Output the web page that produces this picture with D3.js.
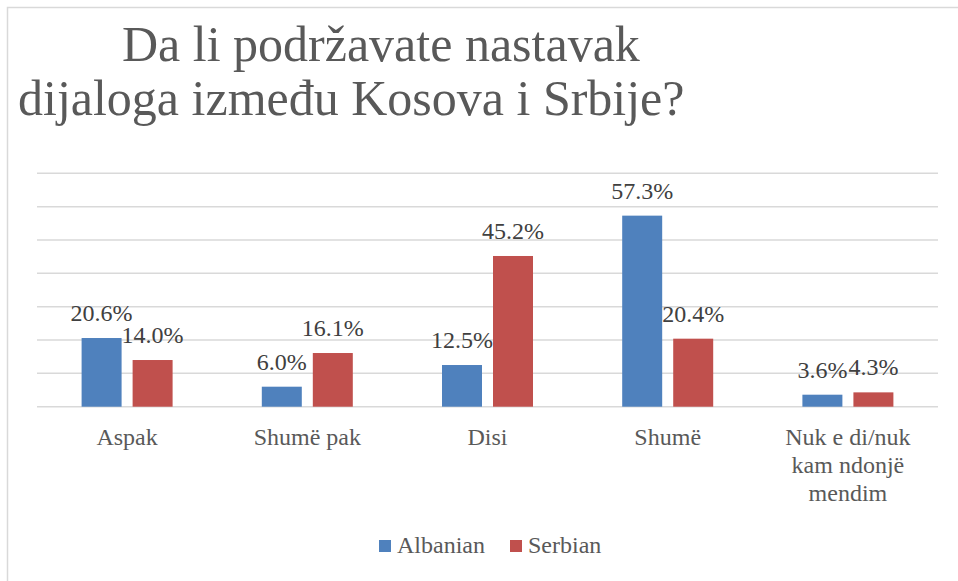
<!DOCTYPE html>
<html lang="en">
<head>
    <meta charset="UTF-8">
    <meta name="viewport" content="width=device-width, initial-scale=1.0">
    <title>Dijalog Kosovo Srbija</title>
    <script src="https://d3js.org/d3.v7.min.js"></script>
    <style>
        body{
            margin: 0;
            background: #ffffff;
        }
        svg{
            display: block;
        }
        svg text{
            font-family: "Liberation Serif", "DejaVu Serif", serif;
        }
    </style>
</head>
<body>
    <div id="chart"></div>
    <script>

        // data
        const categories = ["Aspak", "Shumë pak", "Disi", "Shumë", "Nuk e di/nuk kam ndonjë mendim"]
        const albanian = [20.6, 6.0, 12.5, 57.3, 3.6]
        const serbian = [14.0, 16.1, 45.2, 20.4, 4.3]
        const seriesNames = ["Albanian", "Serbian"]
        const yTicks = [0, 10, 20, 30, 40, 50, 60, 70]
        const titleLines = ["Da li podržavate nastavak", "dijaloga između Kosova i Srbije?"]

        // category labels are wrapped by hand like in the picture
        const categoryLines = [["Aspak"], ["Shumë pak"], ["Disi"], ["Shumë"], ["Nuk e di/nuk", "kam ndonjë", "mendim"]]

        const svgSize = {width:958, height:581}
        const plot = {left:37, right:938, top:173.3, bottom:406.7}
        const colors = {Albanian:"#4F81BD", Serbian:"#C0504D"}

        const svg = d3.select("#chart")
                        .append("svg")
                        .attr("width", svgSize.width)
                        .attr("height", svgSize.height)

        // chart frame, only left and top edges are inside the picture
        svg.append("rect")
            .attr("x", 7.5)
            .attr("y", 7.5)
            .attr("width", 1000)
            .attr("height", 600)
            .attr("fill", "none")
            .attr("stroke", "#d9d9d9")
            .attr("stroke-width", 1.5)

        // title
        const titleX = [122, 18]
        const titleY = [61, 115]
        svg.selectAll(".title")
            .data(titleLines)
            .enter()
            .append("text")
            .attr("class", "title")
            .attr("x", (d,i)=> titleX[i])
            .attr("y", (d,i)=> titleY[i])
            .attr("fill", "#595959")
            .attr("font-size", "50px")
            .text(d=> d)

        // scales
        const xScale = d3.scaleBand()
                            .domain(categories)
                            .range([plot.left, plot.right])
                            .padding(0)

        const groupWidth = 91
        const xInner = d3.scaleBand()
                            .domain(seriesNames)
                            .range([0, groupWidth])
                            .paddingInner(0.216)

        const yScale = d3.scaleLinear()
                            .domain([0, 70])
                            .range([plot.bottom, plot.top])

        // gridlines
        svg.append("g")
            .selectAll("line")
            .data(yTicks)
            .enter()
            .append("line")
            .attr("x1", plot.left)
            .attr("x2", plot.right)
            .attr("y1", d=> yScale(d))
            .attr("y2", d=> yScale(d))
            .attr("stroke", "#d9d9d9")
            .attr("stroke-width", 1.5)

        const rows = categories.map((c,i)=> ({category:c, values:[
            {series:"Albanian", value:albanian[i]},
            {series:"Serbian", value:serbian[i]}
        ]}))

        const groups = svg.selectAll(".group")
                            .data(rows)
                            .enter()
                            .append("g")
                            .attr("class", "group")
                            .attr("transform", d=> `translate(${xScale(d.category) + (xScale.bandwidth()-groupWidth)/2},0)`)

        groups.selectAll("rect")
                .data(d=> d.values)
                .enter()
                .append("rect")
                .attr("x", d=> xInner(d.series))
                .attr("y", d=> yScale(d.value))
                .attr("width", xInner.bandwidth())
                .attr("height", d=> yScale(0) - yScale(d.value))
                .attr("fill", d=> colors[d.series])

        // data labels
        groups.selectAll(".label")
                .data(d=> d.values)
                .enter()
                .append("text")
                .attr("class", "label")
                .attr("x", d=> xInner(d.series) + xInner.bandwidth()/2)
                .attr("y", d=> yScale(d.value) - 17)
                .attr("text-anchor", "middle")
                .attr("font-size", "24px")
                .attr("fill", "#404040")
                .text(d=> d.value.toFixed(1) + "%")

        // category labels
        const catLabels = svg.selectAll(".cat")
                                .data(categories)
                                .enter()
                                .append("text")
                                .attr("class", "cat")
                                .attr("text-anchor", "middle")
                                .attr("font-size", "24px")
                                .attr("fill", "#595959")

        catLabels.selectAll("tspan")
                .data((d,i)=> categoryLines[i].map(line=> ({line:line, x:xScale(d) + xScale.bandwidth()/2})))
                .enter()
                .append("tspan")
                .attr("x", d=> d.x)
                .attr("y", (d,i)=> 445 + i*28)
                .text(d=> d.line)

        // legend
        const legendX = [379, 510]
        const legend = svg.selectAll(".legend")
                            .data(seriesNames)
                            .enter()
                            .append("g")
                            .attr("class", "legend")
                            .attr("transform", (d,i)=> `translate(${legendX[i]},540)`)

        legend.append("rect")
                .attr("width", 12)
                .attr("height", 12)
                .attr("fill", d=> colors[d])

        legend.append("text")
                .attr("x", 18)
                .attr("y", 13)
                .attr("font-size", "24px")
                .attr("fill", "#595959")
                .text(d=> d)

    </script>
</body>
</html>
